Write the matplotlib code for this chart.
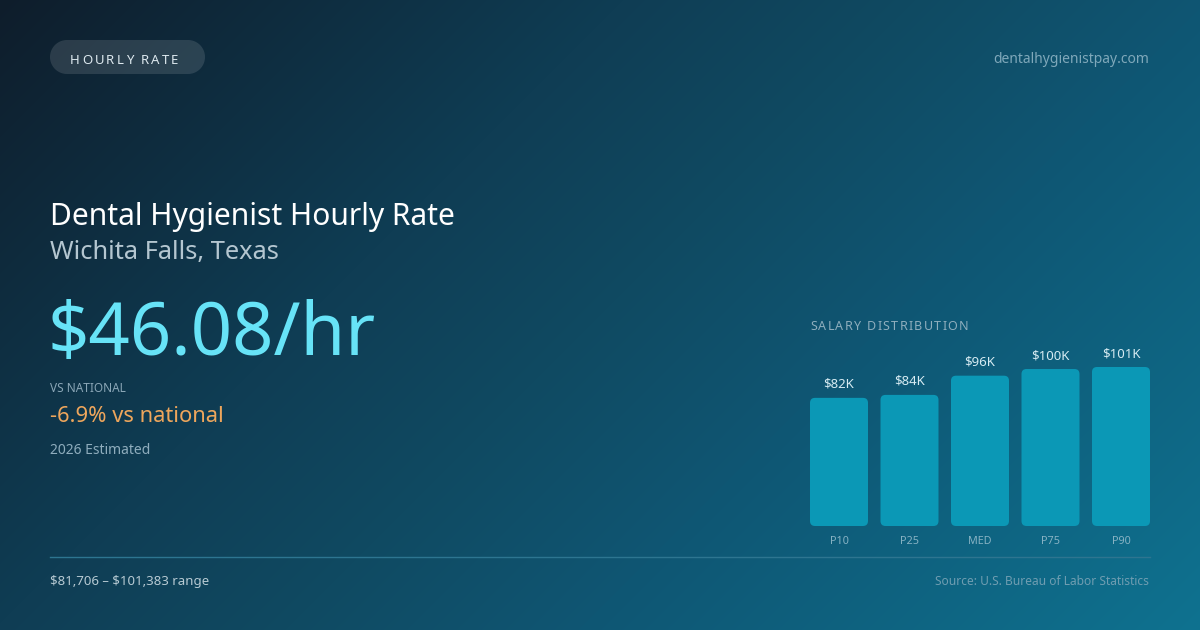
import numpy as np
import matplotlib
matplotlib.use("Agg")
import matplotlib.pyplot as plt
from matplotlib.patches import FancyBboxPatch, Polygon
from matplotlib.colors import to_rgb

# data
percentiles = ["P10", "P25", "MED", "P75", "P90"]
salaries = [81706, 83600, 95846, 100100, 101383]
salary_labels = ["$82K", "$84K", "$96K", "$100K", "$101K"]

title = "Dental Hygienist Hourly Rate"
location = "Wichita Falls, Texas"
hourly = "$46.08/hr"
vs_national = "-6.9% vs national"
range_text = r"\$81,706 – \$101,383 range"

W, H = 1200, 630
plt.rcParams['font.family'] = ['Noto Sans', 'DejaVu Sans']

fig = plt.figure(figsize=(12, 6.3), dpi=100)

# full-figure canvas in pixel coords
bg = fig.add_axes([0, 0, 1, 1])
bg.set_xlim(0, W)
bg.set_ylim(H, 0)
bg.axis("off")

# diagonal gradient background
stops = [(0.0, "#0e1d2b"), (0.34, "#0f3d54"), (0.5, "#0f4a62"),
         (0.66, "#0f5673"), (1.0, "#0e7290")]
yy, xx = np.mgrid[0:H, 0:W]
t = (xx + yy) / (W + H)
pos = [s[0] for s in stops]
cols = np.array([to_rgb(s[1]) for s in stops])
img = np.stack([np.interp(t, pos, cols[:, k]) for k in range(3)], axis=-1)
bg.imshow(img, extent=[0, W, H, 0], aspect="auto", zorder=0)


def spaced(x, y, s, size, spacing, color, **kw):
    # draw text with letter spacing (pixels)
    r = fig.canvas.get_renderer()
    ref = bg.text(0, 0, "|", fontsize=size)
    ref_w = ref.get_window_extent(r).width
    ref.remove()
    for i, ch in enumerate(s):
        tmp = bg.text(0, 0, s[:i] + "|", fontsize=size)
        off = tmp.get_window_extent(r).width - ref_w if i else 0
        tmp.remove()
        bg.text(x + off + i * spacing, y, ch, fontsize=size, color=color,
                va="baseline", ha="left", zorder=5, **kw)


# pill (stadium shape)
px0, px1, pyc, pr = 67, 188, 57, 17
a1 = np.linspace(np.pi / 2, 3 * np.pi / 2, 40)
a2 = np.linspace(-np.pi / 2, np.pi / 2, 40)
pts = np.vstack([np.column_stack([px0 + pr * np.cos(a1), pyc - pr * np.sin(a1)]),
                 np.column_stack([px1 + pr * np.cos(a2), pyc - pr * np.sin(a2)])])
bg.add_patch(Polygon(pts, closed=True, fc=(1, 1, 1, 0.12), ec="none", zorder=3))
spaced(70, 63.5, "HOURLY RATE", 9.5, 2.2, "#dde8ee")

bg.text(1149, 63, "dentalhygienistpay.com", fontsize=10, color="#7fa8ba",
        ha="right", va="baseline", zorder=5)

bg.text(50, 224.5, title, fontsize=21.6, color="#ffffff", va="baseline", zorder=5)
bg.text(50, 259.5, location, fontsize=18.3, color="#b4c6d0", va="baseline", zorder=5)
bg.text(48, 355, hourly, fontsize=52.2, color="#67e3f7", va="baseline", zorder=5)
bg.text(50, 391.5, "VS NATIONAL", fontsize=8.5, color="#8aa6b6", va="baseline", zorder=5)
bg.text(50, 421.5, vs_national, fontsize=15.8, color="#eea65c", va="baseline", zorder=5)
bg.text(50, 454, "2026 Estimated", fontsize=10, color="#8fadbd", va="baseline", zorder=5)

spaced(810, 330, "SALARY DISTRIBUTION", 9, 1.3, "#8eaebd")

# footer
bg.plot([50, 1150], [556.5, 556.5], color="#2d7590", lw=1, zorder=4)
bg.text(50, 585, range_text, fontsize=9.5, color="#b7cad3",
        va="baseline", zorder=5)
bg.text(1149, 585, "Source: U.S. Bureau of Labor Statistics", fontsize=8.6,
        color="#6f9db1", ha="right", va="baseline", zorder=5)

# bar chart axes: x 810..1150, bottom 526, top 367
ax = fig.add_axes([810 / W, (H - 526) / H, 340 / W, 159 / H])
ax.patch.set_alpha(0)
half = 29 / 70.5
ax.set_xlim(-half, len(percentiles) - 1 + half)
ax.set_ylim(0, max(salaries))
for s in ax.spines.values():
    s.set_visible(False)
ax.set_yticks([])
ax.set_xticks(range(len(percentiles)))
ax.set_xticklabels(percentiles, fontsize=7.8, color="#87b2c3")
ax.tick_params(axis="x", length=0, pad=7)

bw = 58 / 70.5
aspect = (max(salaries) / 159) / (1 / 70.5)
for i, v in enumerate(salaries):
    ax.add_patch(FancyBboxPatch((i - bw / 2, 0), bw, v,
                                boxstyle="round,pad=0,rounding_size=%f" % (5 / 70.5),
                                mutation_aspect=aspect, fc="#0b98b6", ec="none",
                                clip_on=False))
    ax.annotate(salary_labels[i], (i, v), xytext=(0, 5), textcoords="offset points",
                ha="center", va="bottom", fontsize=9.5, color="#d6ebf2",
                annotation_clip=False)

fig.savefig("out.png", dpi=100)
